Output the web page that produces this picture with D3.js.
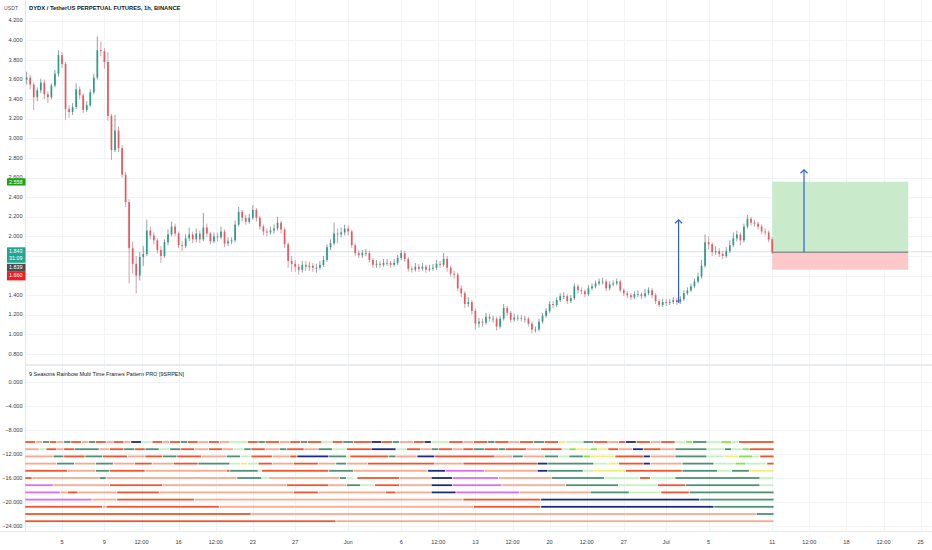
<!DOCTYPE html>
<html>
<head>
<meta charset="utf-8">
<script src="https://cdn.jsdelivr.net/npm/d3@7"></script>
<style>
html, body { margin: 0; padding: 0; background: #fff; }
svg { display: block; font-family: "Liberation Sans", Arial, sans-serif; }
</style>
</head>
<body>
<div id="chart"></div>
<script>
// 8h bars
var barStart = Date.UTC(2022, 4, 1, 16);
var barHours = 8;
var firstOpen = 3.60;

var closes = [
    3.62,3.55,3.42,3.49,3.57,3.45,3.42,3.54,3.66,3.85,
    3.76,3.30,3.27,3.32,3.50,3.44,3.29,3.34,3.47,3.62,
    3.90,3.89,3.78,3.23,2.88,3.08,2.90,2.63,2.35,1.88,
    1.72,1.60,1.79,1.82,2.06,2.01,1.96,1.86,1.80,1.94,
    2.02,2.10,2.03,1.91,1.90,1.98,2.02,1.97,2.03,1.97,
    2.09,2.03,1.95,2.00,1.99,2.05,1.93,1.95,1.96,2.12,
    2.25,2.19,2.15,2.19,2.27,2.19,2.10,2.05,2.04,2.06,
    2.08,2.14,2.07,1.92,1.75,1.72,1.69,1.66,1.71,1.69,
    1.70,1.68,1.68,1.71,1.76,1.89,1.93,2.03,2.02,2.04,
    2.08,2.05,1.91,1.83,1.81,1.83,1.83,1.76,1.71,1.72,
    1.71,1.73,1.73,1.71,1.73,1.78,1.83,1.77,1.67,1.66,
    1.69,1.67,1.69,1.66,1.67,1.68,1.72,1.71,1.77,1.68,
    1.62,1.61,1.47,1.42,1.31,1.33,1.24,1.11,1.13,1.12,
    1.18,1.16,1.16,1.08,1.16,1.27,1.22,1.15,1.17,1.17,
    1.16,1.16,1.11,1.05,1.05,1.13,1.19,1.24,1.31,1.30,
    1.35,1.39,1.39,1.34,1.37,1.49,1.45,1.44,1.41,1.47,
    1.49,1.52,1.54,1.54,1.47,1.51,1.52,1.54,1.45,1.42,
    1.40,1.38,1.41,1.41,1.39,1.42,1.45,1.40,1.34,1.30,
    1.33,1.32,1.33,1.35,1.33,1.36,1.42,1.45,1.49,1.54,
    1.59,1.70,1.94,1.92,1.84,1.85,1.82,1.80,1.85,1.91,
    1.98,2.02,1.96,2.10,2.18,2.14,2.13,2.10,2.05,2.04,
    1.97,1.839
];
var highs = [
    3.68,3.65,3.57,3.52,3.61,3.60,3.48,3.56,3.70,3.90,
    3.88,3.78,3.34,3.36,3.56,3.53,3.46,3.38,3.50,3.66,
    4.04,3.99,3.92,3.88,3.25,3.24,3.12,2.93,2.66,2.38,
    1.95,1.80,1.84,1.90,2.17,2.10,2.04,1.98,1.90,1.97,
    2.07,2.15,2.13,2.05,1.95,2.02,2.09,2.05,2.08,2.06,
    2.24,2.13,2.05,2.04,2.04,2.10,2.07,1.99,1.99,2.16,
    2.30,2.27,2.22,2.23,2.32,2.29,2.21,2.12,2.08,2.10,
    2.12,2.20,2.16,2.09,1.94,1.80,1.76,1.72,1.75,1.75,
    1.74,1.73,1.72,1.75,1.80,1.92,1.97,2.14,2.08,2.09,
    2.12,2.11,2.07,1.93,1.86,1.86,1.87,1.85,1.78,1.76,
    1.75,1.77,1.77,1.75,1.77,1.81,1.86,1.85,1.79,1.70,
    1.73,1.72,1.73,1.71,1.71,1.72,1.76,1.75,1.83,1.80,
    1.70,1.65,1.63,1.50,1.44,1.38,1.35,1.26,1.17,1.16,
    1.22,1.21,1.19,1.18,1.19,1.31,1.29,1.24,1.21,1.20,
    1.20,1.19,1.18,1.13,1.08,1.16,1.22,1.27,1.34,1.34,
    1.38,1.42,1.43,1.41,1.40,1.52,1.51,1.48,1.46,1.50,
    1.52,1.55,1.57,1.58,1.56,1.54,1.55,1.57,1.56,1.47,
    1.44,1.42,1.44,1.45,1.43,1.46,1.48,1.47,1.42,1.36,
    1.36,1.36,1.36,1.38,1.37,1.39,1.45,1.48,1.52,1.57,
    1.63,1.76,2.02,2.00,1.94,1.90,1.88,1.85,1.89,1.96,
    2.04,2.06,2.04,2.13,2.22,2.20,2.17,2.15,2.12,2.08,
    2.06,1.99
];
var lows = [
    3.55,3.50,3.29,3.38,3.46,3.40,3.36,3.40,3.52,3.63,
    3.72,3.19,3.21,3.24,3.30,3.40,3.26,3.27,3.32,3.45,
    3.60,3.84,3.71,3.18,2.78,2.86,2.86,2.60,2.30,1.52,
    1.62,1.42,1.55,1.70,1.80,1.97,1.92,1.83,1.73,1.78,
    1.91,2.00,2.00,1.88,1.85,1.88,1.95,1.93,1.94,1.93,
    1.95,1.99,1.92,1.93,1.95,1.97,1.89,1.90,1.92,1.94,
    2.10,2.15,2.12,2.13,2.17,2.15,2.07,2.01,2.00,2.02,
    2.03,2.06,2.03,1.88,1.68,1.64,1.64,1.61,1.63,1.65,
    1.65,1.64,1.63,1.66,1.69,1.74,1.86,1.91,1.93,1.99,
    2.01,2.01,1.88,1.80,1.78,1.78,1.80,1.73,1.68,1.68,
    1.68,1.69,1.70,1.68,1.69,1.71,1.76,1.74,1.64,1.63,
    1.64,1.64,1.65,1.63,1.64,1.65,1.66,1.68,1.69,1.64,
    1.59,1.57,1.44,1.38,1.27,1.28,1.20,1.05,1.07,1.08,
    1.10,1.13,1.12,1.04,1.06,1.14,1.19,1.12,1.13,1.14,
    1.13,1.12,1.08,1.01,1.02,1.03,1.11,1.17,1.22,1.27,
    1.28,1.33,1.36,1.31,1.32,1.35,1.42,1.41,1.38,1.39,
    1.45,1.47,1.50,1.51,1.44,1.45,1.49,1.50,1.43,1.39,
    1.37,1.35,1.36,1.38,1.36,1.37,1.40,1.37,1.31,1.28,
    1.28,1.29,1.30,1.31,1.30,1.31,1.34,1.40,1.43,1.47,
    1.52,1.57,1.68,1.87,1.80,1.81,1.79,1.77,1.78,1.83,
    1.89,1.95,1.91,1.94,2.08,2.11,2.10,2.07,2.02,2.01,
    1.94,1.82
];

var priceTicks = [0.8, 1.0, 1.2, 1.4, 1.6, 1.8, 2.0, 2.2, 2.4, 2.6, 2.8, 3.0, 3.2, 3.4, 3.6, 3.8, 4.0, 4.2];
var oscTicks = [0, -4, -8, -12, -16, -20, -24];

var timeTickDates = ["2022-05-05T00:00Z", "2022-05-09T00:00Z", "2022-05-12T12:00Z", "2022-05-16T00:00Z",
    "2022-05-19T12:00Z", "2022-05-23T00:00Z", "2022-05-27T00:00Z", "2022-06-01T00:00Z", "2022-06-06T00:00Z",
    "2022-06-09T12:00Z", "2022-06-13T00:00Z", "2022-06-16T12:00Z", "2022-06-20T00:00Z", "2022-06-23T12:00Z",
    "2022-06-27T00:00Z", "2022-07-01T00:00Z", "2022-07-05T00:00Z", "2022-07-11T00:00Z", "2022-07-14T12:00Z",
    "2022-07-18T00:00Z", "2022-07-21T12:00Z", "2022-07-25T00:00Z"];
var timeTickLabels = ["5", "9", "12:00", "16", "12:00", "23", "27", "Jun", "6", "12:00", "13", "12:00",
    "20", "12:00", "27", "Jul", "5", "11", "12:00", "18", "12:00", "25"];

// long position tool
var positionStart = "2022-07-11T00:00Z", positionEnd = "2022-07-23T20:00Z";
var entryPrice = 1.839, targetPrice = 2.558, stopPrice = 1.660;
var lastPrice = 1.843, countdown = "31:09";

// blue arrows: time, from price, to price
var arrowTimes = ["2022-07-02T04:00Z", "2022-07-14T00:00Z"];
var arrowFrom = [1.32, 1.84];
var arrowTo = [2.17, 2.68];

// rainbow rows: [start bar, end bar, colour code]
var rowLevels = [-10, -11.2, -12.4, -13.6, -14.8, -16, -17.2, -18.4, -19.6, -20.8, -22, -23.2];
var rainbowRows = [
    [[0,3,"O"],[3,5,"S"],[5,7,"G"],[7,9,"O"],[9,11,"S"],[11,13,"G"],[13,16,"O"],[16,18,"S"],[18,20,"G"],[20,23,"O"],[23,25,"S"],[25,28,"O"],[28,30,"S"],[30,33,"N"],[33,36,"L"],[36,39,"O"],[39,41,"S"],[41,44,"O"],[44,46,"G"],[46,49,"O"],[49,52,"S"],[52,55,"O"],[55,58,"S"],[58,63,"L"],[63,66,"O"],[66,68,"G"],[68,72,"O"],[72,75,"S"],[75,78,"O"],[78,80,"G"],[80,84,"O"],[84,87,"L"],[87,90,"O"],[90,93,"G"],[93,98,"O"],[98,101,"N"],[101,104,"O"],[104,106,"G"],[106,110,"S"],[110,113,"O"],[113,115,"N"],[115,120,"L"],[120,124,"O"],[124,127,"S"],[127,131,"O"],[131,133,"G"],[133,137,"O"],[137,140,"S"],[140,144,"O"],[144,147,"G"],[147,151,"O"],[151,153,"Y"],[153,158,"L"],[158,161,"G"],[161,165,"O"],[165,168,"S"],[168,170,"O"],[170,173,"N"],[173,177,"O"],[177,180,"S"],[180,184,"O"],[184,187,"L"],[187,189,"B"],[189,193,"G"],[193,197,"L"],[197,200,"B"],[200,202,"L"],[202,212,"O"]],
    [[0,4,"S"],[4,6,"L"],[6,9,"O"],[9,11,"S"],[11,14,"O"],[14,21,"G"],[21,24,"S"],[24,28,"O"],[28,31,"G"],[31,34,"O"],[34,38,"G"],[38,41,"L"],[41,44,"G"],[44,48,"O"],[48,52,"S"],[52,56,"O"],[56,59,"S"],[59,62,"L"],[62,64,"G"],[64,68,"O"],[68,72,"S"],[72,74,"G"],[74,79,"O"],[79,83,"S"],[83,87,"G"],[87,91,"L"],[91,98,"O"],[98,105,"N"],[105,108,"L"],[108,112,"O"],[112,115,"S"],[115,117,"G"],[117,121,"O"],[121,124,"S"],[124,127,"O"],[127,130,"G"],[130,134,"O"],[134,136,"G"],[136,142,"O"],[142,146,"S"],[146,152,"O"],[152,154,"L"],[154,156,"B"],[156,160,"Y"],[160,162,"B"],[162,165,"Y"],[165,168,"O"],[168,172,"S"],[172,175,"N"],[175,180,"O"],[180,184,"S"],[184,193,"G"],[193,198,"L"],[198,200,"G"],[200,203,"L"],[203,205,"B"],[205,212,"O"]],
    [[0,8,"S"],[8,11,"G"],[11,17,"O"],[17,22,"G"],[22,29,"O"],[29,34,"S"],[34,39,"O"],[39,43,"G"],[43,50,"O"],[50,57,"S"],[57,61,"G"],[61,64,"L"],[64,70,"O"],[70,75,"S"],[75,77,"O"],[77,86,"N"],[86,91,"G"],[91,92,"Y"],[92,103,"O"],[103,105,"G"],[105,111,"S"],[111,116,"N"],[116,133,"O"],[133,138,"S"],[138,141,"G"],[141,147,"S"],[147,151,"G"],[151,154,"L"],[154,158,"G"],[158,160,"B"],[160,167,"Y"],[167,175,"O"],[175,177,"N"],[177,184,"S"],[184,193,"G"],[193,198,"L"],[198,202,"Y"],[202,206,"B"],[206,208,"L"],[208,212,"O"]],
    [[0,9,"S"],[9,14,"G"],[14,20,"S"],[20,25,"G"],[25,31,"S"],[31,36,"O"],[36,42,"S"],[42,49,"O"],[49,58,"G"],[58,61,"L"],[61,63,"Y"],[63,66,"L"],[66,70,"O"],[70,76,"S"],[76,83,"O"],[83,88,"S"],[88,91,"G"],[91,97,"S"],[97,116,"O"],[116,124,"S"],[124,145,"O"],[145,148,"N"],[148,161,"G"],[161,165,"L"],[165,168,"Y"],[168,175,"O"],[175,177,"N"],[177,186,"S"],[186,195,"G"],[195,201,"L"],[201,204,"B"],[204,210,"L"],[210,212,"O"]],
    [[0,12,"O"],[12,20,"S"],[20,24,"G"],[24,34,"O"],[34,57,"S"],[57,58,"O"],[58,66,"G"],[66,67,"L"],[67,86,"O"],[86,93,"G"],[93,114,"S"],[114,119,"N"],[119,130,"M"],[130,145,"S"],[145,148,"N"],[148,158,"G"],[158,161,"L"],[161,170,"Y"],[170,186,"O"],[186,196,"G"],[196,200,"L"],[200,205,"G"],[205,212,"Y"]],
    [[0,2,"O"],[2,21,"S"],[21,23,"G"],[23,60,"S"],[60,67,"G"],[67,69,"L"],[69,89,"S"],[89,91,"G"],[91,93,"L"],[94,106,"O"],[106,115,"S"],[115,121,"N"],[121,134,"M"],[134,149,"S"],[149,164,"G"],[164,174,"L"],[174,177,"O"],[177,184,"L"],[184,208,"G"],[208,212,"L"]],
    [[0,8,"M"],[8,24,"S"],[24,39,"O"],[39,74,"S"],[74,86,"O"],[86,91,"S"],[91,95,"G"],[95,99,"L"],[99,106,"O"],[106,115,"S"],[115,121,"N"],[121,135,"M"],[135,153,"S"],[153,168,"G"],[168,179,"L"],[179,187,"O"],[187,208,"G"],[208,212,"L"]],
    [[0,10,"M"],[10,12,"S"],[12,15,"O"],[15,26,"S"],[26,38,"O"],[38,76,"S"],[76,83,"O"],[83,102,"S"],[102,105,"O"],[105,115,"S"],[115,122,"N"],[122,140,"M"],[140,160,"S"],[160,171,"G"],[171,180,"L"],[180,188,"O"],[188,212,"G"]],
    [[0,19,"M"],[19,26,"S"],[26,48,"O"],[48,124,"S"],[124,146,"O"],[146,191,"N"],[191,212,"G"]],
    [[0,22,"O"],[22,23,"S"],[23,55,"O"],[55,127,"S"],[127,146,"O"],[146,195,"N"],[195,212,"G"]],
    [[0,64,"O"],[64,207,"S"],[207,212,"G"]],
    [[0,88,"O"],[88,212,"S"]]
];
var rainbowColors = {
    S: "#f9a98e", O: "#f1552d", G: "#4f9273", L: "#c4f3c0",
    N: "#1f2a7c", M: "#dc6df2", Y: "#f6ee72", B: "#86e545"
};

(function () {
    var width = 932, height = 550;
    var axisW = 25.5;

    var svg = d3.select("#chart").append("svg")
        .attr("width", width)
        .attr("height", height);

    var x = d3.scaleUtc()
        .domain([new Date("2022-05-05T00:00Z"), new Date("2022-07-25T00:00Z")])
        .range([62, 920.6]);
    var y = d3.scaleLinear().domain([0.8, 4.2]).range([354, 20.8]);
    var yOsc = d3.scaleLinear().domain([0, -24]).range([382, 526]);

    var barMs = barHours * 3600 * 1000;
    var barX = function (i) { return x(new Date(barStart + i * barMs)); };
    var barW = barX(1) - barX(0);

    // grid
    var grid = svg.append("g");
    timeTickDates.forEach(function (d) {
        var gx = Math.round(x(new Date(d))) + 0.5;
        grid.append("line").attr("x1", gx).attr("x2", gx).attr("y1", 0).attr("y2", 531)
            .attr("stroke", "#f2f3f6").attr("stroke-width", 1);
    });
    priceTicks.forEach(function (p) {
        var gy = Math.round(y(p)) + 0.5;
        grid.append("line").attr("x1", axisW).attr("x2", width).attr("y1", gy).attr("y2", gy)
            .attr("stroke", "#f2f3f6");
    });
    oscTicks.forEach(function (v) {
        var gy = Math.round(yOsc(v)) + 0.5;
        grid.append("line").attr("x1", axisW).attr("x2", width).attr("y1", gy).attr("y2", gy)
            .attr("stroke", "#f2f3f6");
    });

    // pane borders
    svg.append("rect").attr("x", axisW).attr("y", 364).attr("width", width - axisW).attr("height", 2)
        .attr("fill", "#e9ebf0");
    svg.append("line").attr("x1", axisW).attr("x2", axisW).attr("y1", 0).attr("y2", 531)
        .attr("stroke", "#e6e8ee");
    svg.append("line").attr("x1", 0).attr("x2", width).attr("y1", 531.5).attr("y2", 531.5)
        .attr("stroke", "#e6e8ee");

    // long position box
    var px0 = x(new Date(positionStart)), px1 = x(new Date(positionEnd));
    svg.append("rect").attr("x", px0).attr("y", y(targetPrice))
        .attr("width", px1 - px0).attr("height", y(entryPrice) - y(targetPrice))
        .attr("fill", "#c9ebcb");
    svg.append("rect").attr("x", px0).attr("y", y(entryPrice))
        .attr("width", px1 - px0).attr("height", y(stopPrice) - y(entryPrice))
        .attr("fill", "#fcc8ca");

    // last price line
    svg.append("line").attr("x1", axisW).attr("x2", width)
        .attr("y1", y(lastPrice)).attr("y2", y(lastPrice))
        .attr("stroke", "#d3e4e2").attr("stroke-width", 1);

    svg.append("line").attr("x1", px0).attr("x2", px1)
        .attr("y1", y(entryPrice)).attr("y2", y(entryPrice))
        .attr("stroke", "#5a5e66").attr("stroke-width", 0.9);

    // candles
    var candles = closes.map(function (c, i) {
        return { i: i, o: i === 0 ? firstOpen : closes[i - 1], c: c, h: highs[i], l: lows[i] };
    });
    var upCol = "#2a9d8a", downCol = "#ef5560";
    var cg = svg.append("g");
    cg.selectAll("line.wick").data(candles).enter().append("line")
        .attr("x1", function (d) { return barX(d.i); })
        .attr("x2", function (d) { return barX(d.i); })
        .attr("y1", function (d) { return y(d.h); })
        .attr("y2", function (d) { return y(d.l); })
        .attr("stroke", function (d) { return d.c >= d.o ? "#4d5f5c" : "#b0646a"; })
        .attr("stroke-width", 0.6);
    cg.selectAll("rect.body").data(candles).enter().append("rect")
        .attr("x", function (d) { return barX(d.i) - barW * 0.24; })
        .attr("width", barW * 0.48)
        .attr("y", function (d) { return y(Math.max(d.o, d.c)); })
        .attr("height", function (d) { return Math.max(0.8, Math.abs(y(d.o) - y(d.c))); })
        .attr("fill", function (d) { return d.c >= d.o ? upCol : downCol; });

    // arrows
    arrowTimes.forEach(function (t, k) {
        var ax = x(new Date(t));
        var y0 = y(arrowFrom[k]), y1 = y(arrowTo[k]);
        svg.append("line").attr("x1", ax).attr("x2", ax).attr("y1", y0).attr("y2", y1)
            .attr("stroke", "#2f5fe8").attr("stroke-width", 1.2);
        svg.append("path").attr("d", "M" + (ax - 3.5) + "," + (y1 + 3.5) + "L" + ax + "," + y1 + "L" + (ax + 3.5) + "," + (y1 + 3.5))
            .attr("fill", "none").attr("stroke", "#2f5fe8").attr("stroke-width", 1.2);
    });

    // rainbow rows
    var rg = svg.append("g");
    rainbowRows.forEach(function (segs, r) {
        var ry = yOsc(rowLevels[r]);
        segs.forEach(function (s) {
            var sx0 = barX(s[0] - 0.5) + 0.35, sx1 = barX(s[1] - 0.5) - 0.35;
            rg.append("rect").attr("x", sx0).attr("y", ry - 0.9)
                .attr("width", Math.max(0.5, sx1 - sx0)).attr("height", 1.8)
                .attr("fill", rainbowColors[s[2]]);
        });
    });

    // price badges on the axis (positions first, so covered tick labels can be skipped)
    var fmt = d3.format(".3f");
    var badges = [];
    var tTop = y(targetPrice) - 3.4;
    badges.push({ top: tTop, h: 7.2, col: "#1aa31a", lines: [fmt(targetPrice)] });
    var t1 = y(lastPrice) - 4.5;
    badges.push({ top: t1, h: 15.5, col: "#25a591", lines: [fmt(lastPrice), countdown] });
    var t2 = Math.max(y(entryPrice) - 3.8, t1 + 16.5);
    badges.push({ top: t2, h: 8, col: "#4d4d4f", lines: [fmt(entryPrice)] });
    var t3 = Math.max(y(stopPrice) - 3.8, t2 + 8);
    badges.push({ top: t3, h: 8.6, col: "#ee1d24", lines: [fmt(stopPrice)] });

    var covered = function (ty) {
        return badges.some(function (b) { return ty > b.top + 0.5 && ty < b.top + b.h + 1; });
    };

    // left axis labels
    var la = svg.append("g").attr("font-size", 5.6).attr("fill", "#3a3d45").attr("text-anchor", "end");
    priceTicks.forEach(function (p) {
        if (covered(y(p))) return;
        la.append("text").attr("x", 22.5).attr("y", y(p) + 1.6).text(fmt(p));
    });
    oscTicks.forEach(function (v) {
        la.append("text").attr("x", 22.5).attr("y", yOsc(v) + 2).text(fmt(v));
    });

    badges.forEach(function (b) {
        svg.append("rect").attr("x", 7).attr("y", b.top).attr("width", 18.5).attr("height", b.h).attr("fill", b.col);
        b.lines.forEach(function (t, k) {
            svg.append("text").attr("x", 22.5).attr("y", b.top + 5.6 + k * 7)
                .attr("font-size", 5.4).attr("fill", "#fff").attr("text-anchor", "end").text(t);
        });
    });

    // time axis labels
    var ta = svg.append("g").attr("font-size", 5.6).attr("fill", "#3a3d45").attr("text-anchor", "middle");
    timeTickDates.forEach(function (d, k) {
        ta.append("text").attr("x", x(new Date(d))).attr("y", 544).text(timeTickLabels[k]);
    });

    // titles
    svg.append("text").attr("x", 4).attr("y", 9.5).attr("font-size", 5.2).attr("fill", "#50535e").text("USDT");
    svg.append("text").attr("x", 29).attr("y", 10.3).attr("font-size", 5.8).attr("font-weight", "bold")
        .attr("fill", "#131722").text("DYDX / TetherUS PERPETUAL FUTURES, 1h, BINANCE");
    svg.append("text").attr("x", 29).attr("y", 375.8).attr("font-size", 5.5)
        .attr("fill", "#131722").text("9 Seasons Rainbow Multi Time Frames Pattern PRO [9SRPEN]");
})();
</script>
</body>
</html>
